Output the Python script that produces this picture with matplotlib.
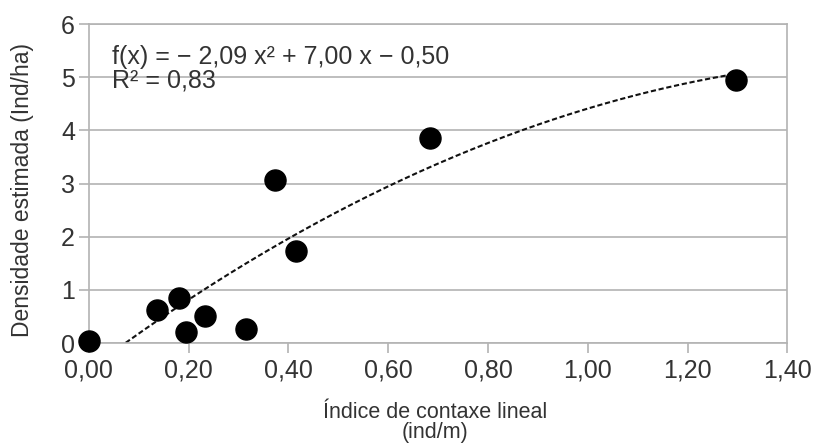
import numpy as np
import matplotlib.pyplot as plt

plt.rcParams['font.family'] = ['Liberation Sans', 'DejaVu Sans']

# data
indice = [0.00, 0.136, 0.18, 0.195, 0.233, 0.315, 0.373, 0.415, 0.684, 1.298]
densidade = [0.03, 0.62, 0.85, 0.20, 0.51, 0.26, 3.06, 1.73, 3.85, 4.94]

# polynomial trend line printed on the chart
coef = [-2.09, 7.00, -0.50]
eq_line = "f(x) = \u2212 2,09 x\u00b2 + 7,00 x \u2212 0,50"
r2_line = "R\u00b2 = 0,83"

xticks = [0.0, 0.2, 0.4, 0.6, 0.8, 1.0, 1.2, 1.4]
xtick_labels = ["0,00", "0,20", "0,40", "0,60", "0,80", "1,00", "1,20", "1,40"]
yticks = [0, 1, 2, 3, 4, 5, 6]

text_col = '#333333'
grid_col = '#b3b3b3'

fig = plt.figure(figsize=(8.15, 4.45), dpi=100)
ax = fig.add_axes([0.109, 0.229, 0.857, 0.717])

ax.set_xlim(0, 1.4)
ax.set_ylim(0, 6)

for y in yticks:
    ax.axhline(y, color=grid_col, lw=1.2, zorder=0)

# trend line, clipped at y = 0 like the original
xs = np.linspace(0, max(indice), 300)
ys = np.polyval(coef, xs)
mask = ys >= 0
ax.plot(xs[mask], ys[mask], color='#111111', lw=1.5, ls=(0, (2.5, 1.3)), zorder=2)

ax.scatter(indice, densidade, s=230, color='black', zorder=3, clip_on=False)

ax.set_xticks(xticks)
ax.set_xticklabels(xtick_labels)
ax.set_yticks(yticks)
ax.tick_params(axis='both', labelsize=18, colors=grid_col, labelcolor=text_col,
               length=7, width=1.2, direction='out')
ax.tick_params(axis='y', pad=3)
ax.tick_params(axis='x', pad=4)

for s in ax.spines.values():
    s.set_color(grid_col)
    s.set_linewidth(1.2)

ax.text(0.046, 5.38, eq_line, fontsize=18, color=text_col, va='center', ha='left')
ax.text(0.046, 4.93, r2_line, fontsize=18, color=text_col, va='center', ha='left')

fig.text(0.534, 0.050, "\u00cdndice de contaxe lineal\n(ind/m)", fontsize=15.5,
         color=text_col, ha='center', va='center', linespacing=0.95)
fig.text(0.028, 0.573, "Densidade estimada (Ind/ha)", fontsize=16.5, color=text_col,
         ha='center', va='center', rotation=90)

fig.savefig('out.png', dpi=100)
